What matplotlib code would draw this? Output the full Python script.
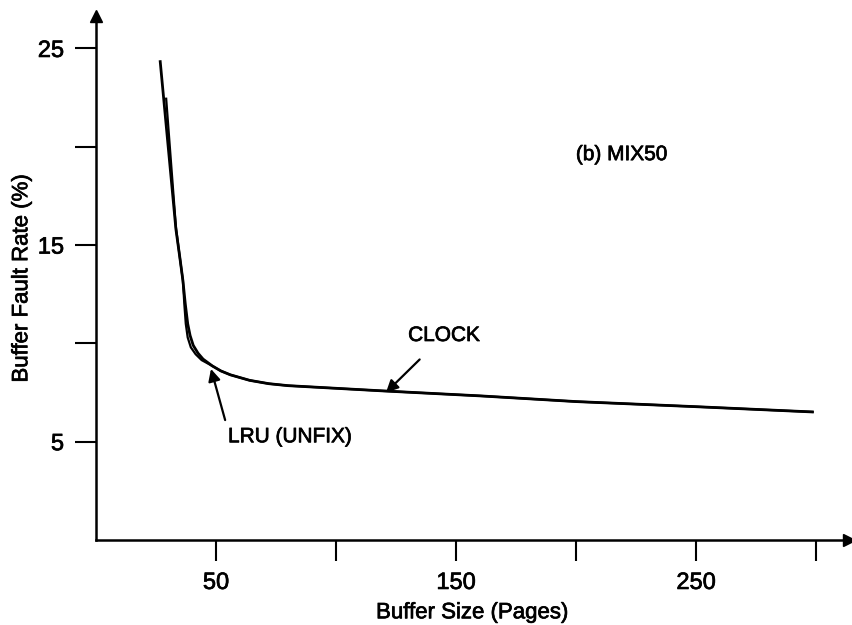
import matplotlib
matplotlib.use("Agg")
import matplotlib.pyplot as plt
import matplotlib.patheffects as pe

plt.rcParams['font.family'] = ['Liberation Sans', 'DejaVu Sans']

# Data
clock_x = [26.7, 30.0, 33.3, 35.0, 36.2, 37.2, 38.2, 39.2, 40.5, 42.5, 44.6, 48.5, 52, 56, 64, 72, 80, 120, 160, 200, 250, 299]
clock_y = [24.4, 20.1, 15.8, 14.3, 13.2, 12.0, 11.0, 10.4, 9.9, 9.5, 9.2, 8.85, 8.6, 8.4, 8.12, 7.95, 7.85, 7.58, 7.33, 7.04, 6.78, 6.51]
lru_x = [29.2, 33.3, 35.0, 36.2, 36.8, 37.4, 38.2, 39.5, 41.5, 44.0, 48.5, 52, 56, 64, 72, 80, 120, 160, 200, 250, 299]
lru_y = [22.5, 15.9, 14.3, 13.2, 12.0, 11.0, 10.3, 9.8, 9.45, 9.15, 8.85, 8.6, 8.4, 8.12, 7.95, 7.85, 7.58, 7.33, 7.04, 6.78, 6.51]

x_ticks = [50, 100, 150, 200, 250, 300]
x_labels = ['50', '', '150', '', '250', '']
y_ticks = [5, 10, 15, 20, 25]
y_labels = ['5', '', '15', '', '25']

fx = [pe.withStroke(linewidth=0.5, foreground='black')]

fig = plt.figure(figsize=(8.53, 6.25), dpi=100)
ax = fig.add_axes([96/853, (625-540)/625, (849-96)/853, (540-16)/625])
ax.set_xlim(0, 313.7)
ax.set_ylim(0, 26.65)

ax.plot(clock_x, clock_y, color='black', lw=2.0, solid_capstyle='butt', solid_joinstyle='round')
ax.plot(lru_x, lru_y, color='black', lw=1.6, solid_capstyle='butt', solid_joinstyle='round')

for s in ['top', 'right']:
    ax.spines[s].set_visible(False)
for s in ['left', 'bottom']:
    ax.spines[s].set_linewidth(1.8)

ax.plot(1, 0, '>', color='black', markersize=8, transform=ax.transAxes, clip_on=False)
ax.plot(0, 1, '^', color='black', markersize=8, transform=ax.transAxes, clip_on=False)

ax.set_xticks(x_ticks)
ax.set_xticklabels(x_labels)
ax.set_yticks(y_ticks)
ax.set_yticklabels(y_labels)
ax.tick_params(axis='both', direction='out', length=15, width=1.5, labelsize=17, pad=8)
for lab in ax.get_xticklabels() + ax.get_yticklabels():
    lab.set_path_effects(fx)

ax.set_xlabel('Buffer Size (Pages)', fontsize=16, labelpad=6, path_effects=fx)
ax.set_ylabel('Buffer Fault Rate (%)', fontsize=16, labelpad=4, path_effects=fx)

ax.text(219, 19.6, '(b) MIX50', fontsize=15, ha='center', va='center', path_effects=fx)
ax.annotate('CLOCK', xy=(120.8, 7.5), xytext=(145, 10.4), fontsize=15,
            ha='center', va='center', path_effects=fx,
            arrowprops=dict(arrowstyle='-|>', color='black', lw=1.6, mutation_scale=18,
                            shrinkA=12, shrinkB=0))
ax.annotate('', xy=(47.9, 8.7), xytext=(53.8, 6.1),
            arrowprops=dict(arrowstyle='-|>', color='black', lw=1.6, mutation_scale=18,
                            shrinkA=0, shrinkB=0))
ax.text(55, 5.25, 'LRU (UNFIX)', fontsize=15, ha='left', va='center', path_effects=fx)

fig.savefig('out.png', dpi=100)
